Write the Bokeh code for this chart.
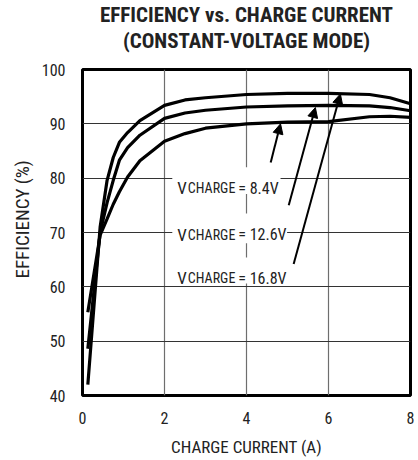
from bokeh.plotting import figure
from bokeh.models import Range1d, Arrow, NormalHead, Title
from bokeh.core.properties import value
from bokeh.embed import file_html
from bokeh.resources import INLINE

# ---- data ----
current = [0.13, 0.43, 0.6, 0.75, 0.9, 1.1, 1.4, 2.0, 2.5, 3.0, 4.0, 5.0, 6.0, 7.0, 7.5, 8.0]
eff_16v8 = [42.0, 71.0, 79.6, 83.8, 86.6, 88.4, 90.6, 93.4, 94.4, 94.8, 95.4, 95.6, 95.6, 95.4, 94.8, 93.7]
eff_12v6 = [48.6, 70.0, 75.5, 79.6, 83.3, 85.6, 87.9, 91.0, 92.0, 92.5, 93.1, 93.3, 93.4, 93.3, 93.0, 92.4]
eff_8v4 = [55.3, 69.5, 72.5, 75.2, 77.5, 80.2, 83.2, 86.8, 88.2, 89.2, 90.0, 90.3, 90.4, 91.3, 91.4, 91.2]

x_ticks = [0, 2, 4, 6, 8]
y_ticks = [40, 50, 60, 70, 80, 90, 100]

title_lines = ["EFFICIENCY vs. CHARGE CURRENT", "(CONSTANT-VOLTAGE MODE)"]
series_labels = ["8.4V", "12.6V", "16.8V"]
label_baseline_y = [78.1, 69.55, 61.6]
box_bottom = [77.1, 68.0, 60.6]
box_top = [82.0, 73.5, 65.4]
box_left = [2.19, 2.19, 2.19]
box_right = [4.83, 4.99, 4.99]
arrow_start = [(4.59, 82.9), (5.03, 75.0), (5.15, 64.2)]
arrow_end = [(4.83, 90.0), (5.68, 93.0), (6.29, 95.5)]

FONT = "Roboto Condensed"
TXT = "#222222"

p = figure(
    x_range=Range1d(0, 8), y_range=Range1d(40, 100),
    frame_width=328, frame_height=326,
    min_border_left=82, min_border_right=8, min_border_top=69, min_border_bottom=57,
    output_backend="svg", toolbar_location=None,
)
p.title = None
# spacer nearest the frame, then second title line, then first line
p.add_layout(Title(text=" ", text_font=FONT, text_font_size="1px", standoff=14), "above")
p.add_layout(Title(text=title_lines[1], align="center", text_font=FONT, text_font_size="21px",
                   text_font_style="bold", text_color=TXT, standoff=0), "above")
p.add_layout(Title(text=title_lines[0], align="center", text_font=FONT, text_font_size="21px",
                   text_font_style="bold", text_color=TXT, standoff=0), "above")

p.add_layout(Title(text="EFFICIENCY (%)", align="left", offset=117, text_font=FONT,
                   text_font_size="19px", text_font_style="normal", text_color=TXT,
                   standoff=10), "left")

p.outline_line_color = "black"
p.outline_line_width = 3
p.background_fill_color = "white"
p.border_fill_color = "white"

p.xgrid.ticker = x_ticks
p.ygrid.ticker = y_ticks
p.xgrid.grid_line_color = "#6e6e6e"
p.ygrid.grid_line_color = "#333333"
p.xgrid.grid_line_width = 1.2
p.ygrid.grid_line_width = 1.2

for ax in (p.xaxis, p.yaxis):
    ax.axis_line_color = None
    ax.major_tick_line_color = None
    ax.minor_tick_line_color = None
    ax.major_tick_out = 0
    ax.major_tick_in = 0
    ax.major_label_text_font = FONT
    ax.major_label_text_font_size = "16px"
    ax.major_label_text_color = TXT
p.xaxis.ticker = x_ticks
p.yaxis.ticker = y_ticks
p.xaxis.major_label_standoff = 16
p.yaxis.major_label_standoff = 17
p.xaxis.axis_label = "CHARGE CURRENT (A)"
p.xaxis.axis_label_text_font = FONT
p.xaxis.axis_label_text_font_size = "17px"
p.xaxis.axis_label_text_font_style = "normal"
p.xaxis.axis_label_text_color = TXT
p.xaxis.axis_label_standoff = 10

# white boxes behind the labels
p.quad(left=box_left, right=box_right, bottom=box_bottom, top=box_top,
       fill_color="white", line_color=None)

for ys in (eff_16v8, eff_12v6, eff_8v4):
    p.line(current, ys, line_color="black", line_width=3.2)

for i, lab in enumerate(series_labels):
    yb = label_baseline_y[i]
    p.text(x=[2.31], y=[yb], text=["V"], text_font=value(FONT), text_font_size="17px",
           text_color=TXT, text_baseline="alphabetic", text_align="left")
    p.text(x=[2.57], y=[yb], text=["CHARGE"], text_font=value(FONT), text_font_size="14px",
           text_color=TXT, text_baseline="alphabetic", text_align="left")
    p.text(x=[3.80], y=[yb], text=["= " + lab], text_font=value(FONT), text_font_size="16px",
           text_color=TXT, text_baseline="alphabetic", text_align="left")
    (xs, ys0), (xe, ye) = arrow_start[i], arrow_end[i]
    p.add_layout(Arrow(x_start=xs, y_start=ys0, x_end=xe, y_end=ye, line_width=2,
                       end=NormalHead(size=10, fill_color="black", line_color="black")))

open("out.html", "w").write(file_html(p, INLINE))
